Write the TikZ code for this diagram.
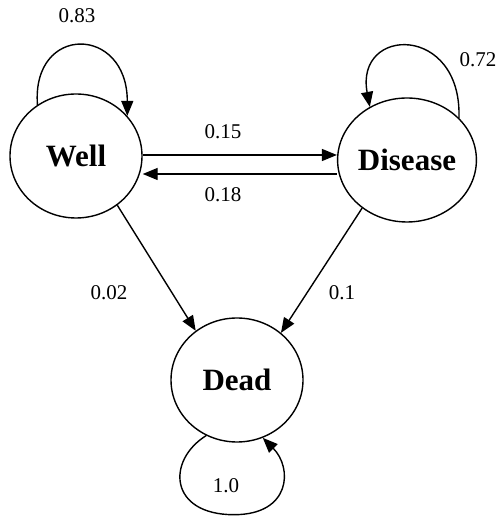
\documentclass[tikz,border=0pt]{standalone}
\usepackage{fontspec}
\setmainfont{Liberation Serif}
\usetikzlibrary{shapes.geometric,arrows.meta}
\begin{document}
\begin{tikzpicture}[x=1pt,y=1pt,
  state/.style={ellipse,draw,line width=1.4pt,minimum width=132pt,minimum height=124pt,
    inner sep=0pt,font=\fontsize{31}{31}\selectfont\bfseries},
  trans/.style={line width=1.4pt,-{Triangle[length=15pt,width=12pt]}},
  prob/.style={font=\fontsize{21}{21}\selectfont,inner sep=0pt}]
\useasboundingbox (0,0) rectangle (498,518);

% states
\node[state] (well)    at (76,362)  {Well};
\node[state] (disease) at (407,358) {Disease};
\node[state] (dead)    at (237,138) {Dead};

% self transitions
\draw[trans] (well.127) .. controls +(-6,81) and +(0,91) .. (well.38);
\draw[trans] (disease.39) .. controls +(3,94) and +(-15,81) .. (disease.125);
\coordinate (deadbottom) at ([xshift=-3pt,yshift=-72pt]dead.south);
\draw[trans] (dead.241) .. controls +(-40,-25) and +(-65,0) .. (deadbottom)
  .. controls +(57,0) and +(30,-30) .. (dead.294);

% transitions between states
\draw[trans] ([yshift=1pt]well.east) -- ([yshift=1pt]well.east -| disease.west);
\draw[trans] ([yshift=-14pt]disease.west) -- ([yshift=-14pt]disease.west -| well.east);
\draw[trans] (well.-50) -- (dead.130);
\draw[trans] (disease.227) -- (dead.47);

% transition probabilities
\node[prob] (p83) at (77,502)  {0.83};
\node[prob] (p72) at (478,458) {0.72};
\node[prob] (p15) at (223,386) {0.15};
\node[prob] (p18) at (223,323) {0.18};
\node[prob] (p02) at (109,225) {0.02};
\node[prob] (p10) at (342,225) {0.1};
\node[prob] (p100) at (226,32) {1.0};
\end{tikzpicture}
\end{document}
